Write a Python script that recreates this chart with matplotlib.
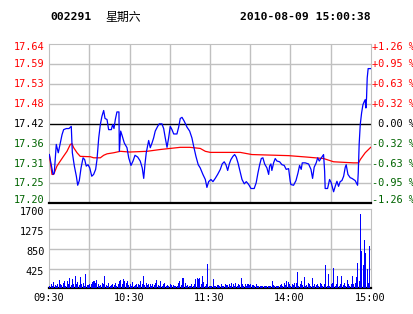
import matplotlib
matplotlib.use("Agg")
import matplotlib.pyplot as plt

# stock 002291, intraday 2010-08-09
code = "002291"
weekday = "星期六"
stamp = "2010-08-09 15:00:38"
base_price = 17.42
price_step = 0.055

price_labels = ["17.64", "17.59", "17.53", "17.48", "17.42", "17.36", "17.31", "17.25", "17.20"]
pct_labels = ["+1.26 %", "+0.95 %", "+0.63 %", "+0.32 %", " 0.00 %",
              "-0.32 %", "-0.63 %", "-0.95 %", "-1.26 %"]
vol_ticks = [425, 850, 1275, 1700]
time_ticks = [0, 60, 120, 180, 240]
time_labels = ["09:30", "10:30", "11:30", "14:00", "15:00"]

# price line (minute from open, price)
price_min = [0, 2.8, 3.7, 5.2, 6.7, 8.2, 9.5, 10.7, 12.7, 14.7, 16.4, 17.2, 18.7, 20.2, 21.2,
             22.4, 23.7, 25.2, 26.4, 27.6, 28.9, 30.2, 31.7, 33.1, 34.6, 35.6, 36.9, 38.1, 39.3,
             40.6, 41.6, 43.1, 44.3, 46.3, 47.3, 48.3, 49.3, 50.5, 52.0, 52.3, 53.3, 54.5, 56.0,
             58.0, 59.3, 61.0, 62.5, 64.0, 66.0, 67.9, 69.4, 70.5, 71.4, 72.4, 74.2, 75.4, 76.7,
             77.9, 79.1, 80.9, 82.1, 84.1, 85.4, 86.6, 87.9, 89.1, 90.3, 91.6, 92.9, 95.3, 96.6,
             97.8, 99.1, 100.8, 102.8, 104.8, 106.5, 107.8, 109.5, 111.2, 112.7, 114.7, 116.5,
             117.7, 119.0, 120.7, 122.2, 123.9, 125.7, 127.7, 129.1, 130.6, 131.9, 133.2, 134.4,
             135.6, 137.1, 138.4, 139.6, 140.9, 142.1, 143.9, 145.6, 147.1, 148.9, 150.6, 153.0,
             154.5, 155.8, 157.1, 158.3, 159.5, 160.8, 162.5, 163.8, 164.5, 165.5, 166.2, 167.5,
             168.7, 170.0, 172.0, 173.7, 175.4, 176.9, 178.7, 179.9, 180.4, 182.4, 184.2, 185.7,
             186.9, 188.1, 188.9, 191.1, 193.6, 195.4, 196.6, 197.8, 199.3, 200.4, 201.6, 202.8,
             204.8, 205.6, 206.0, 207.8, 209.3, 210.5, 212.3, 213.5, 214.8, 216.0, 217.2, 218.5,
             219.8, 221.0, 221.7, 223.0, 224.7, 226.0, 227.2, 228.4, 230.2, 230.7, 231.4, 232.2,
             233.2, 234.2, 235.1, 235.9, 236.4, 236.9, 237.4, 238.1, 240]
price = [17.335, 17.280, 17.284, 17.363, 17.340, 17.367, 17.390, 17.404, 17.407, 17.407, 17.413,
         17.340, 17.303, 17.275, 17.250, 17.263, 17.298, 17.326, 17.321, 17.303, 17.307, 17.298,
         17.275, 17.280, 17.294, 17.321, 17.381, 17.418, 17.441, 17.457, 17.435, 17.432, 17.404,
         17.404, 17.418, 17.407, 17.432, 17.453, 17.453, 17.344, 17.400, 17.386, 17.367, 17.354,
         17.326, 17.305, 17.317, 17.333, 17.328, 17.317, 17.298, 17.269, 17.307, 17.340, 17.374,
         17.354, 17.367, 17.381, 17.400, 17.413, 17.420, 17.420, 17.407, 17.381, 17.355, 17.381,
         17.413, 17.404, 17.392, 17.392, 17.411, 17.435, 17.438, 17.427, 17.411, 17.400, 17.381,
         17.358, 17.330, 17.307, 17.298, 17.280, 17.266, 17.244, 17.260, 17.266, 17.260, 17.269,
         17.280, 17.294, 17.309, 17.315, 17.307, 17.291, 17.309, 17.321, 17.330, 17.335, 17.328,
         17.312, 17.294, 17.266, 17.254, 17.260, 17.252, 17.241, 17.241, 17.257, 17.284, 17.307,
         17.324, 17.326, 17.309, 17.298, 17.280, 17.303, 17.309, 17.291, 17.312, 17.324, 17.317,
         17.315, 17.307, 17.305, 17.294, 17.296, 17.261, 17.252, 17.250, 17.263, 17.284, 17.305,
         17.294, 17.312, 17.312, 17.309, 17.294, 17.269, 17.300, 17.312, 17.326, 17.317, 17.324,
         17.335, 17.289, 17.241, 17.241, 17.266, 17.257, 17.232, 17.247, 17.261, 17.247, 17.260,
         17.263, 17.275, 17.300, 17.307, 17.280, 17.271, 17.269, 17.266, 17.263, 17.250, 17.284,
         17.365, 17.418, 17.450, 17.473, 17.481, 17.487, 17.464, 17.492, 17.547, 17.573, 17.573]

# average price line
avg_min = [0, 2.0, 3.3, 5.7, 8.2, 10.2, 13.2, 15.7, 16.9, 18.2, 20.7, 23.1, 30.6, 33.1, 38.1,
           40.6, 43.1, 48.1, 53.0, 60.0, 73.0, 82.9, 97.8, 105.0, 112.7, 116.5, 120.2, 142.6,
           151.3, 178.7, 192.4, 204.8, 212.3, 227.2, 231.0, 232.2, 235.9, 240]
avg_price = [17.335, 17.280, 17.280, 17.303, 17.317, 17.328, 17.344, 17.363, 17.365, 17.354,
             17.340, 17.330, 17.329, 17.326, 17.326, 17.333, 17.337, 17.340, 17.344, 17.342,
             17.344, 17.349, 17.355, 17.355, 17.352, 17.344, 17.341, 17.341, 17.335, 17.332,
             17.328, 17.324, 17.315, 17.312, 17.312, 17.321, 17.340, 17.355]

# volume per minute (hands)
volume = [60, 90, 60, 130, 70, 60, 100, 180, 90, 70,
          120, 150, 60, 160, 100, 230, 80, 190, 100, 265,
          90, 130, 80, 245, 100, 110, 60, 310, 80, 70,
          100, 90, 130, 150, 110, 180, 100, 60, 70, 110,
          90, 265, 80, 60, 120, 60, 80, 100, 80, 120,
          60, 100, 150, 180, 90, 200, 150, 120, 160, 70,
          90, 60, 130, 60, 70, 100, 90, 80, 150, 100,
          265, 80, 110, 70, 90, 90, 60, 100, 80, 120,
          180, 80, 60, 150, 60, 90, 120, 60, 80, 40,
          90, 70, 80, 60, 40, 40, 120, 160, 80, 215,
          215, 120, 60, 80, 60, 60, 90, 40, 90, 200,
          215, 200, 230, 90, 265, 130, 60, 90, 523, 60,
          60, 50, 200, 60, 40, 70, 80, 60, 90, 60,
          60, 100, 80, 70, 90, 60, 110, 100, 60, 110,
          60, 100, 80, 220, 90, 60, 100, 60, 100, 80,
          100, 80, 80, 60, 100, 60, 40, 40, 60, 40,
          40, 60, 40, 40, 40, 60, 160, 70, 50, 60,
          40, 50, 80, 100, 60, 110, 70, 160, 140, 100,
          60, 100, 80, 120, 110, 350, 60, 90, 160, 70,
          245, 60, 80, 110, 90, 40, 220, 60, 100, 70,
          90, 60, 110, 90, 60, 90, 500, 60, 310, 60,
          90, 110, 440, 60, 90, 270, 60, 90, 270, 80,
          110, 60, 180, 90, 60, 100, 270, 90, 120, 250,
          540, 150, 1590, 800, 495, 1030, 750, 410, 120, 900]

grid_c = "#c0c0c0"
red = "#ff0000"
green = "#006400"
mono = ["DejaVu Sans Mono", "Noto Sans CJK SC"]
lab_fs = 7.4

fig = plt.figure(figsize=(4.14, 3.14), dpi=100)
ax = fig.add_axes([0.1191, 0.3525, 0.7763, 0.5061])
axv = fig.add_axes([0.1191, 0.0818, 0.7763, 0.2516])

# header
fig.text(50 / 414, 1 - 17 / 314, code, fontsize=8.2, fontweight="bold",
         family=mono, va="center", ha="left")
fig.text(105 / 414, 1 - 17 / 314, weekday, fontsize=8.6,
         family=["Noto Sans CJK SC"], va="center", ha="left")
fig.text(371 / 414, 1 - 17 / 314, stamp, fontsize=8.2, fontweight="bold",
         family=mono, va="center", ha="right")

# price panel
levels = [base_price + (4 - i) * price_step for i in range(9)]
ax.set_xlim(0, 240)
ax.set_ylim(levels[-1], levels[0])
for t in time_ticks[:0] + list(range(30, 240, 30)):
    ax.axvline(t, color=grid_c, lw=1.0, zorder=1)
for i, lv in enumerate(levels):
    if i in (0, 8):
        continue
    ax.axhline(lv, color="black" if i == 4 else grid_c, lw=1.0, zorder=1)
ax.axhline(levels[-1], color="black", lw=1.6, zorder=3, clip_on=False)

ax.plot(avg_min, avg_price, color=red, lw=0.9, zorder=4)
ax.plot(price_min, price, color="#0000ff", lw=0.9, zorder=5)

for sp in ["left", "top", "right"]:
    ax.spines[sp].set_color(grid_c)
ax.spines["bottom"].set_visible(False)
ax.set_xticks([])
ax.set_yticks([])

for i, lv in enumerate(levels):
    col = red if i < 4 else ("black" if i == 4 else green)
    dy = -3 if i == 0 else (3 if i == 8 else 0)
    ax.annotate(price_labels[i], xy=(0, lv), xycoords=("axes fraction", "data"),
                xytext=(-5, dy), textcoords="offset pixels", ha="right", va="center",
                fontsize=lab_fs, color=col, family=mono)
    ax.annotate(pct_labels[i], xy=(1, lv), xycoords=("axes fraction", "data"),
                xytext=(1, dy), textcoords="offset pixels", ha="left", va="center",
                fontsize=lab_fs, color=col, family=mono)

# volume panel
axv.set_xlim(0, 240)
axv.set_ylim(0, 1700)
for t in range(30, 240, 30):
    axv.axvline(t, color=grid_c, lw=1.0, zorder=1)
for v in vol_ticks[:-1]:
    axv.axhline(v, color=grid_c, lw=1.0, zorder=1)
axv.bar(range(len(volume)), volume, width=0.75, align="edge", color="#0000ff",
        linewidth=0, zorder=3)
for sp in ["left", "top", "right"]:
    axv.spines[sp].set_color(grid_c)
axv.spines["bottom"].set_color("black")
axv.spines["bottom"].set_linewidth(1.6)
axv.set_xticks([])
axv.set_yticks([])

for v in vol_ticks:
    axv.annotate(str(v), xy=(0, v), xycoords=("axes fraction", "data"),
                 xytext=(-5, -3), textcoords="offset pixels", ha="right", va="center",
                 fontsize=lab_fs, color="black", family=mono)
for t, lab in zip(time_ticks, time_labels):
    axv.annotate(lab, xy=(t, 0), xycoords=("data", "axes fraction"),
                 xytext=(-1, -10), textcoords="offset pixels", ha="center", va="center",
                 fontsize=lab_fs, color="black", family=mono)

fig.savefig("out.png", dpi=100)
